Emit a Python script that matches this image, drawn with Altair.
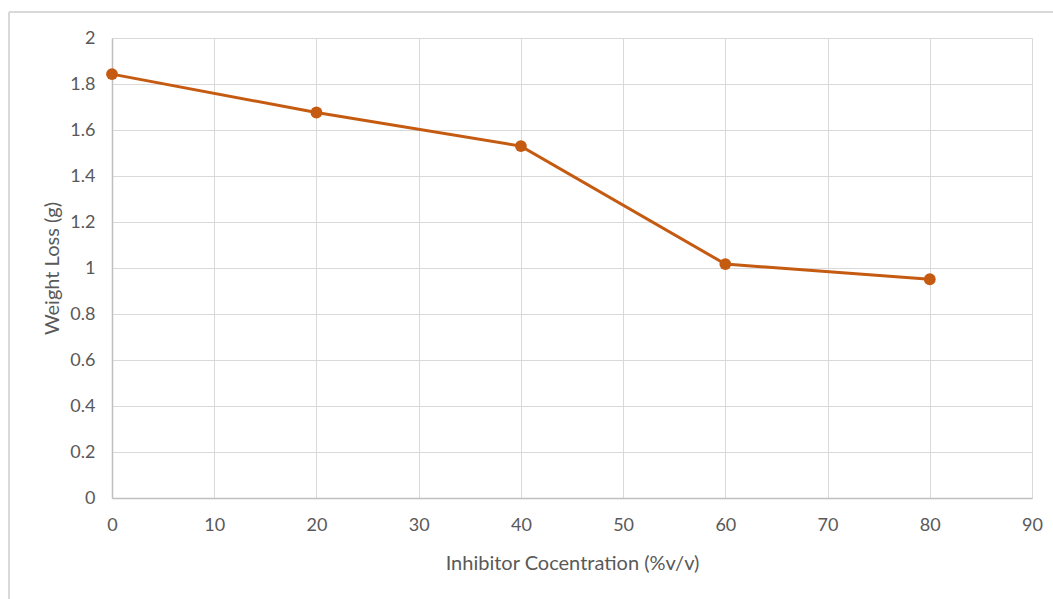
import altair as alt
import pandas as pd

concentration = [0, 20, 40, 60, 80]
weight_loss = [1.843, 1.676, 1.530, 1.017, 0.951]

df = pd.DataFrame({"conc": concentration, "loss": weight_loss})

COLOR = "#C55A11"
FONT = "Lato"

base = alt.Chart(df)

x = alt.X("conc:Q", title="Inhibitor Cocentration (%v/v)",
          scale=alt.Scale(domain=[0, 90], nice=False),
          axis=alt.Axis(values=list(range(0, 100, 10)), labelFlush=False))
y = alt.Y("loss:Q", title="Weight Loss (g)",
          scale=alt.Scale(domain=[0, 2], nice=False),
          axis=alt.Axis(values=[round(i * 0.2, 1) for i in range(11)], format="~g", labelFlush=False))

line = base.mark_line(color=COLOR, strokeWidth=3).encode(x=x, y=y)
pts = base.mark_circle(color=COLOR, size=140, opacity=1).encode(x="conc:Q", y="loss:Q")

border_top = alt.Chart(pd.DataFrame({"a": [0]})).mark_rule(color="#D9D9D9", strokeWidth=2).encode(
    x=alt.value(-103), x2=alt.value(960), y=alt.value(-26))
border_left = alt.Chart(pd.DataFrame({"a": [0]})).mark_rule(color="#D9D9D9", strokeWidth=2).encode(
    x=alt.value(-103), y=alt.value(-26), y2=alt.value(600))

chart = alt.layer(border_top, border_left, line, pts).properties(
    width=920, height=460,
    autosize=alt.AutoSizeParams(type="none"),
    padding={"left": 112, "top": 38, "right": 21, "bottom": 101},
).configure_view(stroke=None).configure_axis(
    grid=True, gridColor="#D9D9D9", gridWidth=1,
    domainColor="#BFBFBF", domainWidth=1.5,
    ticks=False,
    labelFont=FONT, labelFontSize=18, labelColor="#595959",
    titleFont=FONT, titleFontSize=20, titleColor="#595959", titleFontWeight="normal",
).configure_axisX(labelPadding=18, titlePadding=19).configure_axisY(labelPadding=17, titlePadding=7)

chart.save("out.html", embed_options={"renderer": "svg", "actions": False})
